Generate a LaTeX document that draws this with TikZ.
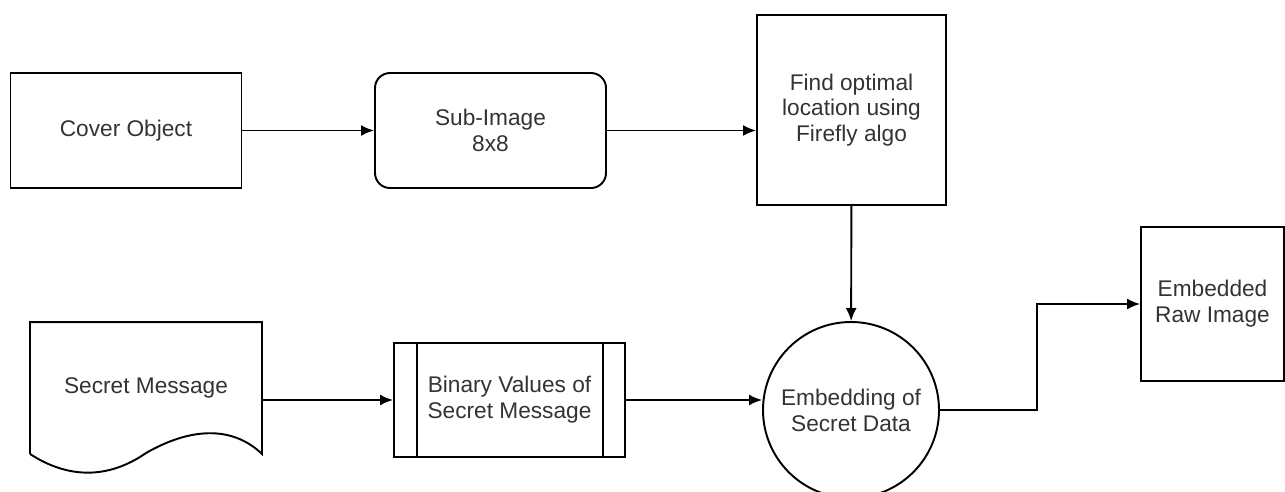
\documentclass[tikz,border=0pt]{standalone}
\usepackage{fontspec}
\setmainfont{Liberation Sans}
\usetikzlibrary{arrows.meta}
\definecolor{txt}{HTML}{333333}
\tikzset{every node/.style={align=center, text=txt, font=\fontsize{12.9}{14.7}\selectfont},
  >={Latex[length=2.6mm,width=2.2mm]},
  box/.style={draw, rectangle, minimum width=#1},
  box/.default=46.2mm}

\begin{document}
\begin{tikzpicture}[x=0.2mm, y=-0.2mm, line width=1.1pt]
  \useasboundingbox (0,0) rectangle (1285,491);
  \node [box, minimum height=23mm] (cover) at (126,130.5) {Cover Object};
  \node [box, minimum height=23mm, rounded corners=3mm] (sub) at (490.5,130.5) {Sub-Image\\8x8};
  \node [box=37.8mm, minimum height=38mm] (find) at (851.5,110) {Find optimal\\location using\\Firefly algo};
  \node [minimum width=46mm, minimum height=26mm] (msg) at (146,388) {Secret Message};
  \node [box, minimum height=22.8mm] (bin) at (509.5,400) {Binary Values of\\Secret Message};
  \node [draw, circle, minimum size=35.2mm, inner sep=0pt] (emb) at (851,410) {Embedding of\\Secret Data};
  \node [box=28.6mm, minimum height=30.8mm] (raw) at (1212.5,304) {Embedded\\Raw Image};
  % document outline and process bars
  \draw (msg.south west) -- (msg.north west) -- (msg.north east) -- (msg.south east)
    .. controls (235,428) and (195,425) .. (146,453)
    .. controls (110,478) and (70,480) .. (msg.south west);
  \draw ([xshift=4.8mm]bin.north west) -- ([xshift=4.8mm]bin.south west)
    ([xshift=-4.6mm]bin.north east) -- ([xshift=-4.6mm]bin.south east);
  \path[->] (cover) edge (sub)
    (sub.east) edge (sub.east -| find.west)
    (find) edge (emb)
    (msg.east |- bin.west) edge (bin.west)
    (bin.east) edge (bin.east -| emb.west);
  \draw[->] (emb.east) -- ++(97,0) |- (raw.west);
\end{tikzpicture}
\end{document}
